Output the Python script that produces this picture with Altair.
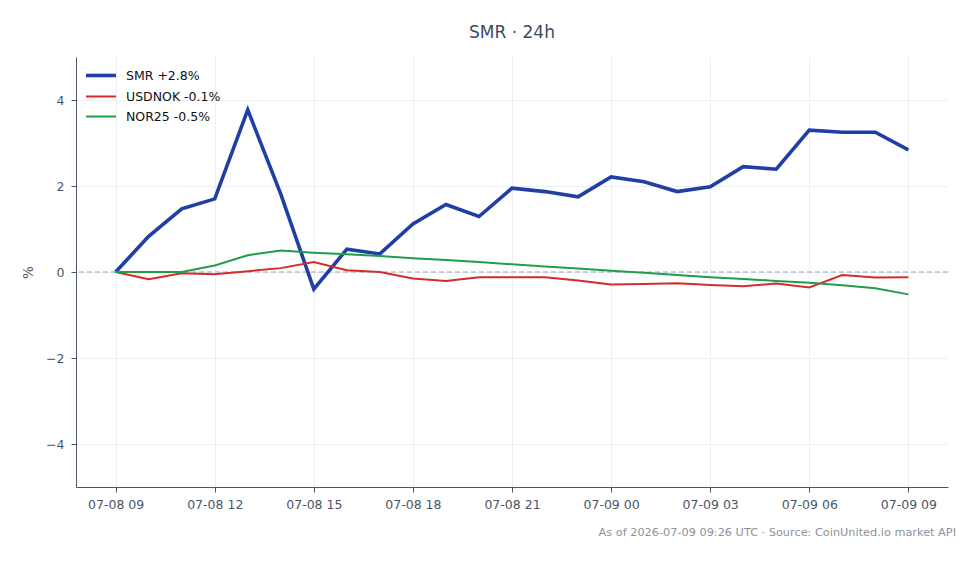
import altair as alt
import pandas as pd

times = pd.date_range("2026-07-08 09:00", "2026-07-09 09:00", freq="h").strftime("%Y-%m-%dT%H:%M:%SZ").tolist()

smr = [0.0, 0.83, 1.47, 1.70, 3.77, 1.81, -0.40, 0.53, 0.42, 1.12, 1.57, 1.29, 1.95,
       1.87, 1.75, 2.21, 2.10, 1.87, 1.98, 2.45, 2.39, 3.30, 3.25, 3.25, 2.84]
usdnok = [0.0, -0.17, -0.03, -0.05, 0.02, 0.09, 0.23, 0.04, 0.0, -0.15, -0.21, -0.12, -0.12,
          -0.12, -0.20, -0.29, -0.28, -0.26, -0.30, -0.33, -0.27, -0.36, -0.07, -0.13, -0.12]
nor25 = [0.0, 0.0, 0.0, 0.15, 0.39, 0.50, 0.45, 0.41, 0.37, 0.32, 0.28, 0.23, 0.18,
         0.13, 0.08, 0.03, -0.02, -0.07, -0.12, -0.16, -0.21, -0.25, -0.31, -0.38, -0.52]

series_names = ["SMR +2.8%", "USDNOK -0.1%", "NOR25 -0.5%"]
series_colors = ["#1f3fa6", "#d62b2b", "#1f9e4a"]
series_widths = [3.6, 2.0, 2.0]

rows = []
for name, vals in zip(series_names, [smr, usdnok, nor25]):
    for t, v in zip(times, vals):
        rows.append({"time": t, "pct": v, "series": name})
df = pd.DataFrame(rows)

tick_hours = [9, 12, 15, 18, 21, 0, 3, 6, 9]
tick_days = [8, 8, 8, 8, 8, 9, 9, 9, 9]
tick_values = [alt.DateTime(year=2026, month=7, date=d, hours=h, utc=True)
               for d, h in zip(tick_days, tick_hours)]
x_domain = [alt.DateTime(year=2026, month=7, date=8, hours=7, minutes=48, utc=True),
            alt.DateTime(year=2026, month=7, date=9, hours=10, minutes=12, utc=True)]

FONT = "DejaVu Sans"
AXIS_COLOR = "#4a5568"

x_enc = alt.X("time:T", title=None,
              scale=alt.Scale(type="utc", domain=x_domain),
              axis=alt.Axis(values=tick_values,
                            labelExpr="utcFormat(datum.value, '%m-%d %H')",
                            labelFontSize=12.5, labelColor=AXIS_COLOR, labelPadding=6,
                            tickColor=AXIS_COLOR, tickSize=5, domainColor=AXIS_COLOR,
                            gridColor="#eceef1", labelFont=FONT))
y_enc = alt.Y("pct:Q", title="%",
              scale=alt.Scale(domain=[-5, 5], nice=False),
              axis=alt.Axis(values=[-4, -2, 0, 2, 4], format="d",
                            labelExpr="replace(datum.label, '-', '\u2212')",
                            labelFontSize=12.5, labelColor=AXIS_COLOR, labelPadding=7,
                            tickColor=AXIS_COLOR, tickSize=5, domainColor=AXIS_COLOR,
                            gridColor="#eceef1", labelFont=FONT,
                            titleFont=FONT, titleFontSize=13.5, titleFontWeight="normal",
                            titleColor=AXIS_COLOR, titlePadding=10))

lines = alt.Chart(df).mark_line().encode(
    x=x_enc,
    y=y_enc,
    color=alt.Color("series:N", sort=series_names,
                    scale=alt.Scale(domain=series_names, range=series_colors),
                    legend=alt.Legend(title=None, orient="none", legendX=15.5, legendY=9,
                                      symbolType="M-2,0H2", symbolSize=225,
                                      labelFontSize=12.5, labelFont=FONT, labelColor="#111111",
                                      rowPadding=5, labelOffset=15.5)),
    strokeWidth=alt.StrokeWidth("series:N", sort=series_names,
                                scale=alt.Scale(type="ordinal", domain=series_names, range=series_widths),
                                legend=None),
)

zero = alt.Chart(pd.DataFrame({"z": [0]})).mark_rule(
    color="#94a3b8", strokeDash=[5, 3], strokeWidth=1
).encode(y=alt.Y("z:Q"))

footer = alt.Chart(pd.DataFrame({"t": ["As of 2026-07-09 09:26 UTC \u00b7 Source: CoinUnited.io market API"]})).mark_text(
    align="right", baseline="middle", fontSize=11.3, font=FONT, color="#8a929c"
).encode(text="t:N", x=alt.value(880), y=alt.value(476))

chart = alt.layer(zero, lines, footer).properties(
    width=872, height=430,
    title=alt.Title("SMR \u00b7 24h", fontSize=17, font=FONT, fontWeight="normal",
                    color="#3d4a5c", anchor="middle", offset=15),
    padding={"left": 76, "top": 57, "right": 32, "bottom": 77},
    autosize=alt.AutoSizeParams(type="none"),
).configure_view(stroke=None).configure_axis(domainWidth=1)

chart.save("out.html", embed_options={"renderer": "svg", "actions": False})
